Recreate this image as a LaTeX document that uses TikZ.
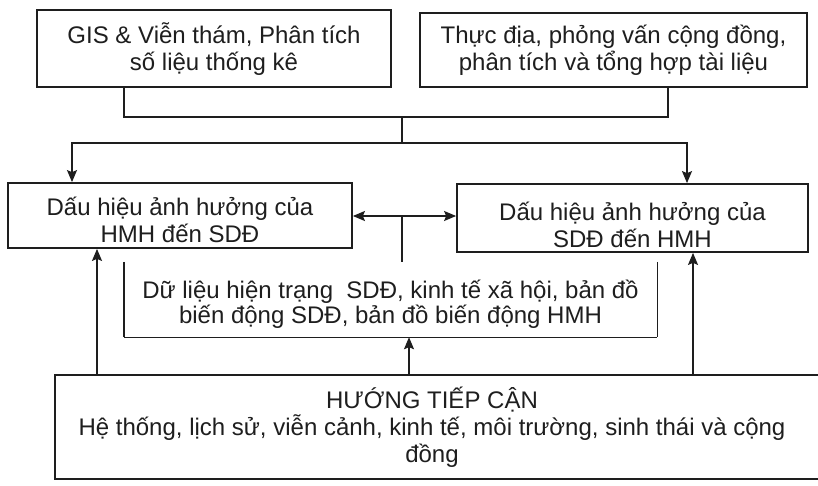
\documentclass[tikz,border=0pt]{standalone}
\usepackage{fontspec}
\setmainfont{Liberation Sans}
\usetikzlibrary{arrows.meta}
\definecolor{ink}{HTML}{1E1E1E}
\newcommand{\dfont}{\fontsize{24}{27}\selectfont}
\tikzset{
  box/.style={draw=ink, line width=1.8pt, inner sep=0pt},
  txt/.style={align=center, inner sep=0pt, font=\dfont, text=ink},
  edge/.style={draw=ink, line width=1.4pt},
  tip/.style={Stealth[length=12pt,width=10pt,inset=2pt]},
  arr/.style={edge, -{Stealth[length=12pt,width=10pt,inset=2pt]}},
  arrboth/.style={edge, {Stealth[length=12pt,width=10pt,inset=2pt]}-{Stealth[length=12pt,width=10pt,inset=2pt]}}
}
\begin{document}
\begin{tikzpicture}[x=1pt,y=-1pt]
\useasboundingbox (0,0) rectangle (818,485);
\fill[white] (0,0) rectangle (818,485);

\node[box, minimum width=354pt, minimum height=77pt] (gis) at (214,48.5) {};
\node[txt] (gist) at ([yshift=-1pt]gis.center) {GIS \& Viễn thám, Phân tích\\số liệu thống kê};
\node[box, minimum width=387pt, minimum height=74pt] (thuc) at (613.5,50) {};
\node[txt] (thuct) at ([yshift=0pt]thuc.center) {Thực địa, phỏng vấn cộng đồng,\\phân tích và tổng hợp tài liệu};
\node[box, minimum width=344pt, minimum height=65pt] (left) at (180,215.5) {};
\node[txt] (leftt) at ([yshift=-4pt]left.center) {Dấu hiệu ảnh hưởng của\\HMH đến SDĐ};
\node[box, minimum width=351pt, minimum height=68pt] (right) at (632.5,218) {};
\node[txt] (rightt) at ([yshift=-7pt]right.center) {Dấu hiệu ảnh hưởng của\\SDĐ đến HMH};
\node[minimum width=533pt, minimum height=75pt, inner sep=0pt] (data) at (390.5,299.5) {};
\node[txt, font=\fontsize{24}{25.5}\selectfont] (datat) at ([yshift=-5pt]data.center) {Dữ liệu hiện trạng\ \ SDĐ, kinh tế xã hội, bản đồ\\biến động SDĐ, bản đồ biến động HMH};
\draw[edge] (data.north west) -- (data.south west);
\draw[edge] (data.north east) -- (data.south east);
\draw[draw=ink, line width=0.7pt] (data.south west) -- (data.south east);
\node[box, minimum width=775pt, minimum height=104pt] (app) at (442.5,427) {};
\node[txt] (appt) at (432,427) {HƯỚNG TIẾP CẬN\\Hệ thống, lịch sử, viễn cảnh, kinh tế, môi trường, sinh thái và cộng\\đồng};

\coordinate (j1) at (124,117);
\coordinate (j2) at (668,117);
\coordinate (j3) at (402,117);
\coordinate (j4) at (402,143);
\coordinate (j5) at (72,143);
\coordinate (j6) at (687,143);
\draw[edge] (gis.south -| j1) -- (j1) -- (j2) -- (thuc.south -| j2);
\draw[edge] (j3) -- (j4);
\draw[arr] (j4) -- (j5) -- (j5 |- left.north);
\draw[arr] (j4) -- (j6) -- (j6 |- right.north);

\coordinate (m) at (402,216);
\draw[arrboth] (left.east |- m) -- (right.west |- m);
\draw[edge] (m) -- (m |- data.north);

\coordinate (u1) at (97,375);
\coordinate (u2) at (409,375);
\coordinate (u3) at (693,375);
\draw[arr] (app.north -| u1) -- (left.south -| u1);
\draw[arr] (app.north -| u2) -- (data.south -| u2);
\draw[arr] (app.north -| u3) -- (right.south -| u3);
\end{tikzpicture}
\end{document}
